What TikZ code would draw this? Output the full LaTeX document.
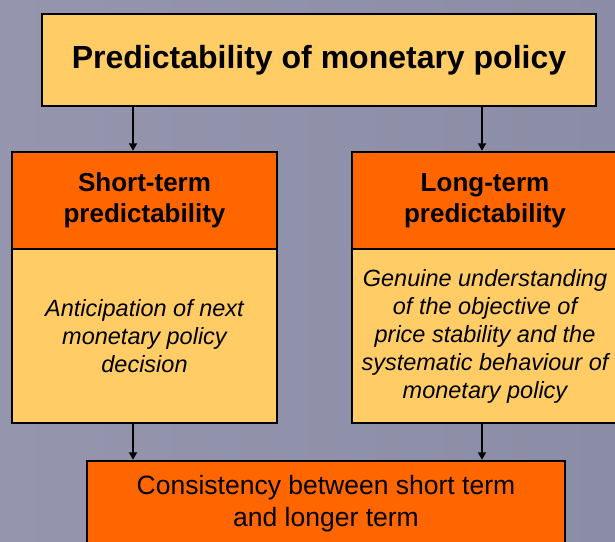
\documentclass[tikz,border=0pt]{standalone}
\usepackage{fontspec}
\setmainfont{Liberation Sans}
\usetikzlibrary{arrows.meta}
\definecolor{bgleft}{HTML}{9596AE}
\definecolor{bgright}{HTML}{8B8CA5}
\definecolor{paleorange}{HTML}{FFCC66}
\definecolor{deeporange}{HTML}{FF6600}
\tikzset{
  box/.style={draw=black, line width=2.5pt, rectangle, inner sep=0pt,
    align=center, text=black, miter limit=10},
  headbox/.style={box, fill=deeporange, minimum width=265pt, minimum height=97pt,
    font=\bfseries\fontsize{26}{31}\selectfont},
  bodybox/.style={box, fill=paleorange, minimum width=265pt, minimum height=174pt,
    font=\itshape\fontsize{23.5}{28}\selectfont},
  flow/.style={draw=black, line width=2pt, -{Triangle[length=7.5pt,width=8pt]}}
}
\begin{document}
\begin{tikzpicture}[x=1pt,y=-1pt]
  % backdrop
  \useasboundingbox (0,0) rectangle (615,541);
  \shade[left color=bgleft, right color=bgright] (0,0) rectangle (615,541);

  % title
  \node[box, fill=paleorange, minimum width=554pt, minimum height=92pt,
        font=\bfseries\fontsize{32}{38}\selectfont] (title) at (319,60)
        {Predictability of monetary policy};

  % short-term column
  \node[headbox] (shorthead) at (144.5,200.5) {Short-term\\predictability};
  \node[bodybox] (shortbody) at (144.5,336)
        {Anticipation of next\\monetary policy\\decision};

  % long-term column
  \node[headbox, minimum width=266pt] (longhead) at (485,200.5) {Long-term\\predictability};
  \node[bodybox, minimum width=266pt] (longbody) at (485,336)
        {Genuine understanding\\of the objective of\\price stability and the\\systematic behaviour of\\monetary policy};

  % conclusion
  \node[box, fill=deeporange, minimum width=478pt, minimum height=86pt,
        font=\fontsize{26.5}{32}\selectfont] (consist) at (326,504)
        {Consistency between short term\\and longer term};

  % connectors
  \draw[flow] ([xshift=-11.5pt]shorthead.north |- title.south) -- ([xshift=-11.5pt]shorthead.north);
  \draw[flow] ([xshift=-3pt]longhead.north |- title.south) -- ([xshift=-3pt]longhead.north);
  \draw[flow] ([xshift=-11.5pt]shortbody.south) -- ([xshift=-11.5pt]shortbody.south |- consist.north);
  \draw[flow] ([xshift=-3pt]longbody.south) -- ([xshift=-3pt]longbody.south |- consist.north);
\end{tikzpicture}
\end{document}
